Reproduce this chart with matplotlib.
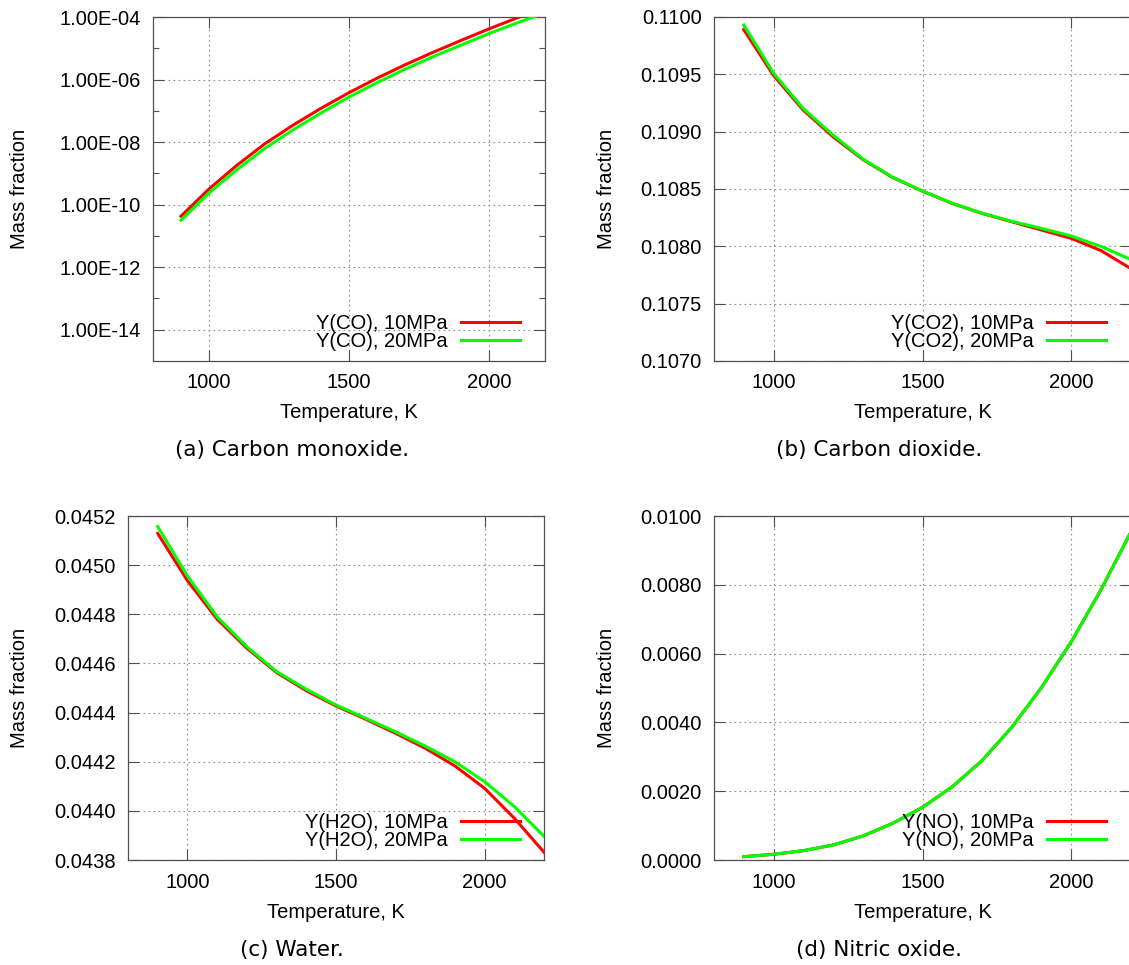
import matplotlib
matplotlib.use("Agg")
import matplotlib.pyplot as plt
from matplotlib.ticker import FixedLocator, FixedFormatter, FormatStrFormatter, NullFormatter

# ---------------- data ----------------
temperature = [900, 1000, 1100, 1200, 1300, 1400, 1500, 1600, 1700, 1800, 1900, 2000, 2100, 2200]

co_10mpa = [4.27e-11, 3.16e-10, 1.82e-9, 8.9e-9, 3.47e-8, 1.20e-7, 3.80e-7, 1.10e-6,
            2.95e-6, 7.41e-6, 1.78e-5, 4.17e-5, 9.33e-5, 2.0e-4]
co_20mpa = [3.16e-11, 2.34e-10, 1.32e-9, 6.31e-9, 2.45e-8, 8.51e-8, 2.75e-7, 7.94e-7,
            2.14e-6, 5.37e-6, 1.26e-5, 2.95e-5, 6.46e-5, 1.35e-4]

co2_10mpa = [0.10989, 0.10949, 0.109187, 0.108955, 0.108757, 0.108600, 0.108481, 0.108374,
             0.108287, 0.108214, 0.108142, 0.108069, 0.107962, 0.107805]
co2_20mpa = [0.10993, 0.10951, 0.109200, 0.108970, 0.108762, 0.108603, 0.108483, 0.108376,
             0.108289, 0.108218, 0.108156, 0.108090, 0.107998, 0.107885]

h2o_10mpa = [0.045129, 0.044937, 0.044780, 0.044662, 0.044563, 0.044489, 0.044427, 0.044373,
             0.044316, 0.044255, 0.044183, 0.044092, 0.043970, 0.043832]
h2o_20mpa = [0.045157, 0.044956, 0.044790, 0.044668, 0.044567, 0.044495, 0.044431, 0.044377,
             0.044322, 0.044264, 0.044200, 0.044119, 0.044018, 0.043896]

no_10mpa = [0.000097, 0.000165, 0.000271, 0.000436, 0.000698, 0.001066, 0.00153, 0.00213,
            0.00289, 0.00386, 0.00502, 0.00635, 0.00787, 0.00954]
no_20mpa = [0.000097, 0.000165, 0.000271, 0.000436, 0.000698, 0.001066, 0.00153, 0.00213,
            0.00289, 0.00386, 0.00502, 0.00635, 0.00787, 0.00954]

species = ["CO", "CO2", "H2O", "NO"]
captions = ["(a) Carbon monoxide.", "(b) Carbon dioxide.", "(c) Water.", "(d) Nitric oxide."]
pressures = ["10MPa", "20MPa"]
x_ticks = [1000, 1500, 2000]

co_ticks = [1e-4, 1e-6, 1e-8, 1e-10, 1e-12, 1e-14]
co_tick_labels = ["1.00E-04", "1.00E-06", "1.00E-08", "1.00E-10", "1.00E-12", "1.00E-14"]
co_minor_ticks = [1e-5, 1e-7, 1e-9, 1e-11, 1e-13]
co2_ticks = [0.1070, 0.1075, 0.1080, 0.1085, 0.1090, 0.1095, 0.1100]
h2o_ticks = [0.0438, 0.0440, 0.0442, 0.0444, 0.0446, 0.0448, 0.0450, 0.0452]
no_ticks = [0.0000, 0.0020, 0.0040, 0.0060, 0.0080, 0.0100]

series = [(co_10mpa, co_20mpa), (co2_10mpa, co2_20mpa), (h2o_10mpa, h2o_20mpa), (no_10mpa, no_20mpa)]

# ---------------- layout (pixels) ----------------
W, H = 1129, 965
axes_px = [(153, 17, 392, 344), (714, 17, 417, 344), (128, 516, 416, 344), (714, 516, 417, 344)]
ylabel_x_px = [20, 606, 20, 606]
caption_px = [(292, 450), (879, 450), (292, 950), (879, 950)]

colors = ["#ff0000", "#00ff00"]
FS = 14.5
tick_font = "Liberation Sans"

fig = plt.figure(figsize=(W / 100, H / 100), dpi=100)

for i in range(4):
    l, t, w, h = axes_px[i]
    ax = fig.add_axes([l / W, 1 - (t + h) / H, w / W, h / H])
    y10, y20 = series[i]
    ax.plot(temperature, y10, color=colors[0], lw=2.2, label=f"Y({species[i]}), {pressures[0]}", zorder=3)
    ax.plot(temperature, y20, color=colors[1], lw=2.2, label=f"Y({species[i]}), {pressures[1]}", zorder=4)
    ax.set_xlim(800, 2200)
    ax.xaxis.set_major_locator(FixedLocator(x_ticks))

    if i == 0:
        ax.set_yscale("log")
        ax.set_ylim(1e-15, 1e-4)
        ax.yaxis.set_major_locator(FixedLocator(co_ticks))
        ax.yaxis.set_major_formatter(FixedFormatter(co_tick_labels))
        ax.yaxis.set_minor_locator(FixedLocator(co_minor_ticks))
        ax.yaxis.set_minor_formatter(NullFormatter())
    else:
        ticks = [co2_ticks, h2o_ticks, no_ticks][i - 1]
        ax.set_ylim(ticks[0], ticks[-1])
        ax.yaxis.set_major_locator(FixedLocator(ticks))
        ax.yaxis.set_major_formatter(FormatStrFormatter("%.4f"))
        ax.xaxis.set_minor_formatter(NullFormatter())

    ax.grid(True, which="major", color="#8c8c8c", lw=0.8, linestyle=(0, (1.5, 3)))
    ax.tick_params(which="major", direction="in", length=8, width=0.8, color="#505050",
                   top=True, right=True, labelsize=FS, pad=9)
    ax.tick_params(which="minor", direction="in", length=4.5, width=0.8, color="#505050",
                   top=False, right=True)
    ax.tick_params(axis="x", which="minor", bottom=False, top=False)
    for lab in ax.get_xticklabels() + ax.get_yticklabels():
        lab.set_fontfamily(tick_font)
    for sp in ax.spines.values():
        sp.set_color("#505050")
        sp.set_linewidth(0.9)

    ax.set_xlabel("Temperature, K", fontsize=FS, fontfamily=tick_font)
    ax.set_ylabel("Mass fraction", fontsize=FS, fontfamily=tick_font)
    ax.xaxis.label.set_va("center")
    ax.yaxis.label.set_va("center")
    xl_y = -(413 - 361) / 344 if i < 2 else -(913 - 860) / 344
    ax.xaxis.set_label_coords(0.5, xl_y)
    ax.yaxis.set_label_coords((ylabel_x_px[i] - l) / w, 0.5)

    line_right = [520, 1106, 520, 1106][i]
    leg = ax.legend(loc="lower right", bbox_to_anchor=((line_right - l) / w, 0.03),
                    frameon=False, markerfirst=False, handlelength=2.93, handletextpad=0.65,
                    labelspacing=-0.05, borderpad=0, borderaxespad=0,
                    prop={"family": tick_font, "size": FS})

    cx, cy = caption_px[i]
    fig.text(cx / W, 1 - cy / H, captions[i], ha="center", va="center",
             fontsize=15.5, fontfamily="DejaVu Sans")

fig.savefig("out.png", dpi=100)
